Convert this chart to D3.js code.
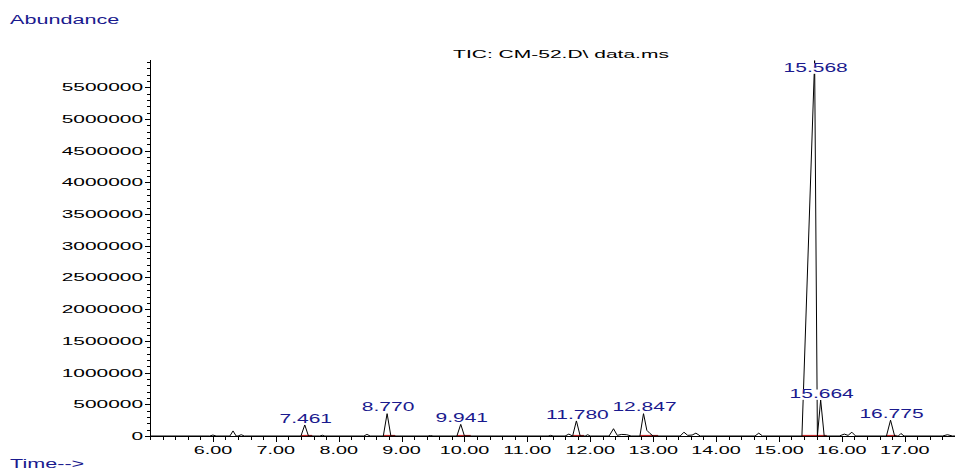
<!DOCTYPE html>
<html>
<head>
<meta charset="utf-8">
<script src="https://cdn.jsdelivr.net/npm/d3@7"></script>
<style>
  html, body { margin: 0; padding: 0; background: #fff; }
  svg { display: block; }
  text { font-family: "Liberation Sans", Arial, Helvetica, sans-serif; }
</style>
</head>
<body>
<svg id="chart" width="958" height="472"></svg>
<script>
// ---- data ----
const chartTitle = "TIC: CM-52.D\\ data.ms";
const yAxisTitle = "Abundance";
const xAxisTitle = "Time-->";

// trace points (retention time in minutes, abundance)
const traceTimes = [
  5.00, 5.95, 6.00, 6.05, 6.27, 6.32, 6.37, 6.40, 6.45, 6.50,
  7.40, 7.461, 7.52, 7.70, 7.74, 7.78, 8.40, 8.45, 8.50,
  8.71, 8.770, 8.83, 9.42, 9.46, 9.50, 9.88, 9.941, 10.00,
  11.33, 11.37, 11.41, 11.60, 11.66, 11.72, 11.780, 11.84, 11.92, 11.96, 12.00,
  12.30, 12.37, 12.43, 12.50, 12.58, 12.65,
  12.79, 12.847, 12.90, 12.95, 13.00,
  13.43, 13.49, 13.55, 13.62, 13.68, 13.75,
  14.62, 14.68, 14.74,
  15.366, 15.568, 15.612, 15.664, 15.72,
  15.96, 16.04, 16.10, 16.16, 16.22,
  16.71, 16.775, 16.84, 16.90, 16.94, 16.99,
  17.60, 17.68, 17.76, 17.80
];
const traceAbundance = [
  0, 0, 15000, 0, 0, 80000, 0, 0, 20000, 0,
  0, 175000, 0, 0, 12000, 0, 0, 25000, 0,
  0, 355000, 0, 0, 8000, 0, 0, 185000, 0,
  0, 10000, 0, 0, 30000, 0, 240000, 0, 0, 20000, 0,
  0, 115000, 10000, 25000, 20000, 0,
  0, 355000, 90000, 40000, 0,
  0, 60000, 10000, 15000, 45000, 0,
  0, 45000, 0,
  0, 5920000, 0, 567000, 0,
  0, 30000, 10000, 60000, 0,
  0, 250000, 0, 0, 40000, 0,
  0, 20000, 0, 0
];

// labelled (integrated) peaks
const peakTimes  = [7.461, 8.770, 9.941, 11.780, 12.847, 15.568, 15.664, 16.775];
const peakLabels = ["7.461", "8.770", "9.941", "11.780", "12.847", "15.568", "15.664", "16.775"];
const peakHeights = [175000, 355000, 185000, 240000, 355000, 5920000, 567000, 250000];
// integration baselines (start, end) in minutes
const baseStart = [7.40, 8.71, 9.88, 11.72, 12.79, 15.366, 15.612, 16.71];
const baseEnd   = [7.58, 8.90, 10.10, 11.90, 13.08, 15.612, 15.76, 16.87];

const yTickValues = [0, 500000, 1000000, 1500000, 2000000, 2500000, 3000000,
                     3500000, 4000000, 4500000, 5000000, 5500000];
const xTickValues = [6, 7, 8, 9, 10, 11, 12, 13, 14, 15, 16, 17];
const xDomain = [5.0, 17.80];
const yDomain = [0, 5930000];

// ---- drawing ----
const svg = d3.select("#chart");
const mLeft = 150, mRight = 955, mTop = 60, mBottom = 436;
const sx = 1.9;   // horizontal stretch of the original lettering
const navy = "#1a1a8e";

const x = d3.scaleLinear().domain(xDomain).range([mLeft, mRight]);
const y = d3.scaleLinear().domain(yDomain).range([mBottom, mTop]);

function stretchedText(g, tx, ty, str, opts) {
  return g.append("text")
    .attr("transform", `translate(${tx},${ty}) scale(${opts.sx || sx},1)`)
    .attr("text-anchor", opts.anchor || "start")
    .attr("font-size", opts.size || 11)
    .attr("fill", opts.fill || "#000")
    .text(str);
}
stretchedText(svg, 10, 24, yAxisTitle, {size: 12, sx: 1.8, fill: navy});
stretchedText(svg, 10, 468, xAxisTitle, {size: 12, sx: 1.8, fill: navy});
stretchedText(svg, 561, 58, chartTitle, {size: 10.5, sx: 2.0, anchor: "middle"});

// y axis
const yMinor = d3.range(0, yDomain[1], 100000);
svg.append("g").selectAll("line").data(yMinor).join("line")
  .attr("x1", mLeft - 3).attr("x2", mLeft)
  .attr("y1", d => Math.round(y(d)) + 0.5).attr("y2", d => Math.round(y(d)) + 0.5)
  .attr("stroke", "#000").attr("stroke-width", 1);
svg.append("g").selectAll("line").data(yTickValues).join("line")
  .attr("x1", mLeft - 5).attr("x2", mLeft)
  .attr("y1", d => Math.round(y(d)) + 0.5).attr("y2", d => Math.round(y(d)) + 0.5)
  .attr("stroke", "#000").attr("stroke-width", 1);
const yLab = svg.append("g");
yTickValues.forEach(v => {
  stretchedText(yLab, 143, y(v) + 4, d3.format("d")(v), {size: 11, anchor: "end"});
});
svg.append("line").attr("x1", mLeft + 0.5).attr("x2", mLeft + 0.5)
  .attr("y1", mTop).attr("y2", mBottom + 0.5).attr("stroke", "#000");

// x axis
const xMinor = d3.range(0, 64).map(i => 5.0 + i * 0.2).filter(t => t <= xDomain[1] + 1e-9);
svg.append("g").selectAll("line").data(xMinor).join("line")
  .attr("x1", d => Math.round(x(d)) + 0.5).attr("x2", d => Math.round(x(d)) + 0.5)
  .attr("y1", mBottom).attr("y2", mBottom + 4)
  .attr("stroke", "#000");
svg.append("g").selectAll("line").data(xTickValues).join("line")
  .attr("x1", d => Math.round(x(d)) + 0.5).attr("x2", d => Math.round(x(d)) + 0.5)
  .attr("y1", mBottom).attr("y2", mBottom + 6)
  .attr("stroke", "#000");
const xLab = svg.append("g");
xTickValues.forEach(v => {
  stretchedText(xLab, x(v), 454, v.toFixed(2), {size: 11, sx: 1.8, anchor: "middle"});
});
svg.append("line").attr("x1", mLeft).attr("x2", mRight)
  .attr("y1", mBottom + 0.5).attr("y2", mBottom + 0.5).attr("stroke", "#000");

// integration baselines
svg.append("g").selectAll("line").data(baseStart).join("line")
  .attr("x1", d => x(d)).attr("x2", (d, i) => x(baseEnd[i]))
  .attr("y1", mBottom - 0.5).attr("y2", mBottom - 0.5)
  .attr("stroke", "#c0282a").attr("stroke-width", 1.2);

// trace
const pts = traceTimes.map((t, i) => [t, traceAbundance[i]]);
svg.append("path").datum(pts)
  .attr("fill", "none").attr("stroke", "#000").attr("stroke-width", 1)
  .attr("d", d3.line().x(d => x(d[0])).y(d => y(d[1])));

// peak labels (with white backing like the original)
const lab = svg.append("g");
peakTimes.forEach((t, i) => {
  const ly = Math.max(y(peakHeights[i]) - 2, mTop + 12);
  const tEl = stretchedText(lab, x(t) + 1, ly, peakLabels[i], {size: 12, sx: 1.75, anchor: "middle", fill: navy});
  const bb = tEl.node().getBBox();
  lab.insert("rect", () => tEl.node())
    .attr("x", x(t) + 1 + bb.x * 1.75).attr("y", ly + bb.y + 2)
    .attr("width", bb.width * 1.75).attr("height", bb.height - 3)
    .attr("fill", "#fff");
});
</script>
</body>
</html>
